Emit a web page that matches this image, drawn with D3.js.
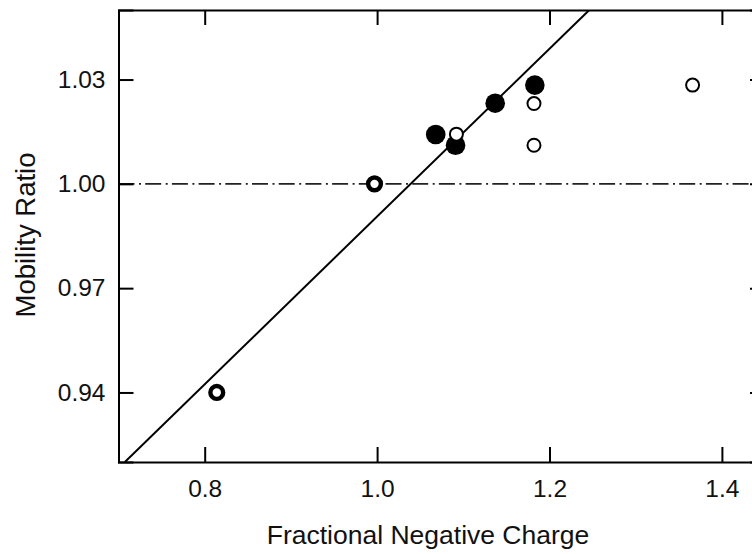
<!DOCTYPE html>
<html>
<head>
<meta charset="utf-8">
<script src="https://cdn.jsdelivr.net/npm/d3@7"></script>
<style>
  body { margin: 0; background: #fff; }
  svg { display: block; font-family: "Liberation Sans", Arial, sans-serif; }
</style>
</head>
<body>
<svg id="chart" width="752" height="554"></svg>
<script>
// axis ticks
const xTicks = [0.8, 1.0, 1.2, 1.4];
const yTicks = [0.94, 0.97, 1.00, 1.03];

// filled points (charge, mobility ratio)
const filledX = [1.068, 1.091, 1.137, 1.183];
const filledY = [1.0142, 1.0111, 1.0232, 1.0284];

// open points
const openX = [1.092, 1.182, 1.182, 1.366];
const openY = [1.0143, 1.0231, 1.0111, 1.0284];

// points shared by both sets (drawn as heavy rings)
const sharedX = [0.814, 0.997];
const sharedY = [0.94, 1.00];

// fitted line: y = a + b*x
const fitA = 0.7493;
const fitB = 0.2413;
const refLevel = 1.00;

const width = 752, height = 554;
const margin = { top: 10, right: -13, bottom: 92, left: 118.5 };

const svg = d3.select('#chart');

const x = d3.scaleLinear()
    .domain([0.7, 1.45])
    .range([margin.left, width - margin.right]);
const y = d3.scaleLinear()
    .domain([0.92, 1.05])
    .range([height - margin.bottom, margin.top]);

const fmtX = d3.format('.1f');
const fmtY = d3.format('.2f');

// clip for data inside frame
svg.append('clipPath').attr('id', 'plot')
  .append('rect')
    .attr('x', x(0.7)).attr('y', y(1.05))
    .attr('width', x(1.45) - x(0.7)).attr('height', y(0.92) - y(1.05));

const plot = svg.append('g').attr('clip-path', 'url(#plot)');

// reference line
plot.append('line')
    .attr('x1', x(0.7)).attr('x2', x(1.45))
    .attr('y1', y(refLevel)).attr('y2', y(refLevel))
    .attr('stroke', '#222')
    .attr('stroke-width', 1.6)
    .attr('stroke-dasharray', '16,4.5,2,4.2');

// fitted line
const x0 = (0.92 - fitA) / fitB, x1 = (1.05 - fitA) / fitB;
plot.append('path')
    .datum([x0, x1])
    .attr('fill', 'none')
    .attr('stroke', '#000')
    .attr('stroke-width', 2)
    .attr('d', d3.line().x(d => x(d)).y(d => y(fitA + fitB * d)));

// filled points
plot.selectAll('.filled')
  .data(d3.range(filledX.length))
  .join('circle')
    .attr('cx', i => x(filledX[i]))
    .attr('cy', i => y(filledY[i]))
    .attr('r', 9.8)
    .attr('fill', '#000');

// open points
plot.selectAll('.open')
  .data(d3.range(openX.length))
  .join('circle')
    .attr('cx', i => x(openX[i]))
    .attr('cy', i => y(openY[i]))
    .attr('r', 6.5)
    .attr('fill', '#fff')
    .attr('stroke', '#000')
    .attr('stroke-width', 2);

// shared points
plot.selectAll('.shared')
  .data(d3.range(sharedX.length))
  .join('circle')
    .attr('cx', i => x(sharedX[i]))
    .attr('cy', i => y(sharedY[i]))
    .attr('r', 6.4)
    .attr('fill', '#fff')
    .attr('stroke', '#000')
    .attr('stroke-width', 4.4);

// axes, ticks pointing inward
const tick = 15;
const gx = svg.append('g')
    .attr('transform', `translate(0,${y(0.92)})`)
    .call(d3.axisBottom(x).tickValues(xTicks).tickFormat(fmtX).tickSize(-tick).tickPadding(18));
const gxTop = svg.append('g')
    .attr('transform', `translate(0,${y(1.05)})`)
    .call(d3.axisTop(x).tickValues(xTicks).tickSize(-tick).tickFormat(''));
const gy = svg.append('g')
    .attr('transform', `translate(${x(0.7)},0)`)
    .call(d3.axisLeft(y).tickValues(yTicks).tickFormat(fmtY).tickSize(-tick).tickPadding(13));
const gyRight = svg.append('g')
    .attr('transform', `translate(${x(1.45)},0)`)
    .call(d3.axisRight(y).tickValues(yTicks).tickSize(-tick).tickFormat(''));

[gx, gxTop, gy, gyRight].forEach(g => {
  g.select('.domain').attr('stroke', '#000').attr('stroke-width', 2);
  g.selectAll('.tick line').attr('stroke', '#000').attr('stroke-width', 2);
  g.selectAll('.tick text').attr('fill', '#111').style('font-size', '24.5px')
    .style('font-family', '"Liberation Sans", Arial, sans-serif');
});

// axis titles
svg.append('text')
    .attr('x', 428)
    .attr('y', 544)
    .attr('text-anchor', 'middle')
    .attr('fill', '#111')
    .style('font-size', '26.5px')
    .text('Fractional Negative Charge');

svg.append('text')
    .attr('transform', `translate(35,235) rotate(-90)`)
    .attr('text-anchor', 'middle')
    .attr('fill', '#111')
    .style('font-size', '27.5px')
    .text('Mobility Ratio');
</script>
</body>
</html>
